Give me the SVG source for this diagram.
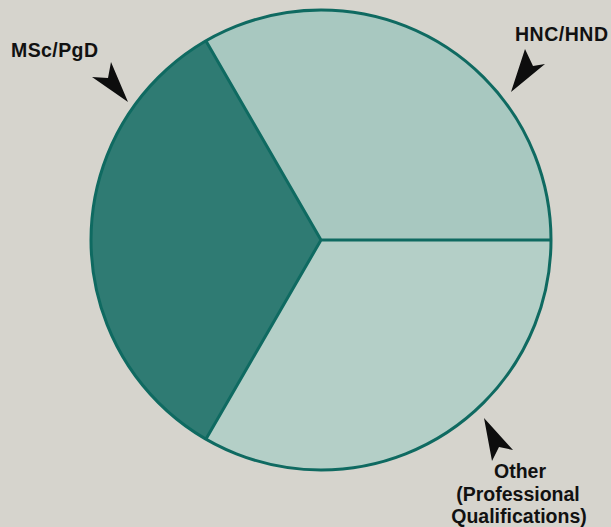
<svg xmlns="http://www.w3.org/2000/svg" width="611" height="527" viewBox="0 0 611 527">
<style>
.lbl{font-family:"Liberation Sans",Arial,sans-serif;font-weight:bold;font-size:19.5px;fill:#111}
.mid{text-anchor:middle}
.edge{stroke:#0f6a61;stroke-width:3;fill:none;stroke-linejoin:round}
.arrow{fill:#0d0d0d}
</style>
<rect width="611" height="527" fill="#d6d4cd"/>
<g id="pie">
<g id="hnc-hnd">
<path d="M321,240 L206,41 A230,230 0 0 1 551,240 Z" fill="#a8c8c0"/>
</g>
<g id="other">
<path d="M321,240 L551,240 A230,230 0 0 1 206,439 Z" fill="#b4cfc7"/>
</g>
<g id="msc-pgd">
<path d="M321,240 L206,439 A230,230 0 0 1 206,41 Z" fill="#2f7b73"/>
</g>
</g>
<g id="connectors">
<circle class="edge" cx="321" cy="240" r="230"/>
<path class="edge" d="M206,41 L321,240 L551,240 M321,240 L206,439"/>
</g>
<g id="label-msc">
<text class="lbl" x="11" y="57" textLength="87" lengthAdjust="spacing">MSc/PgD</text>
<polygon class="arrow" points="128,102 111,62 108,78 92,77"/>
</g>
<g id="label-hnc">
<text class="lbl" x="515" y="41" textLength="93" lengthAdjust="spacing">HNC/HND</text>
<polygon class="arrow" points="511,92 525,49 533,66 545,64"/>
</g>
<g id="label-other">
<text class="lbl mid" x="520" y="478">Other</text>
<text class="lbl mid" x="518" y="501">(Professional</text>
<text class="lbl mid" x="519" y="523">Qualifications)</text>
<polygon class="arrow" points="484,418 513,450 499,447 492,461"/>
</g>
</svg>
